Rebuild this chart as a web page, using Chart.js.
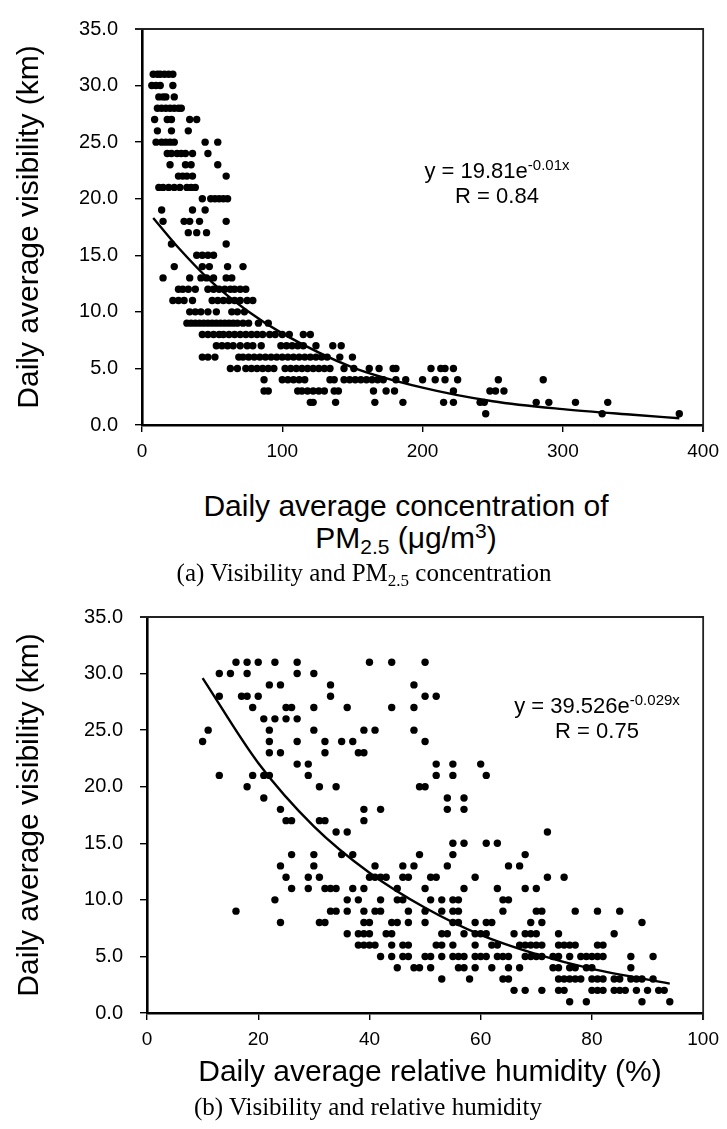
<!DOCTYPE html>
<html>
<head>
<meta charset="utf-8">
<script src="https://cdn.jsdelivr.net/npm/chart.js@4.4.1/dist/chart.umd.min.js"></script>
<style>
  body { margin: 0; background: #fff; }
  #page { position: relative; width: 727px; height: 1129px; font-family: 'Liberation Sans', Arial, sans-serif; color: #000; overflow: hidden; }
  canvas { position: absolute; left: 0; }
  .txt { position: absolute; text-align: center; white-space: nowrap; z-index: 2; }
  .axis-title { font-size: 30px; line-height: 32px; }
  .eq { font-size: 22px; line-height: 25px; }
  .caption { font-family: 'Liberation Serif', 'Times New Roman', serif; font-size: 25px; line-height: 28px; }
  .eq sup { font-size: 15px; vertical-align: 8px; line-height: 0; }
  .axis-title sub { font-size: 21px; vertical-align: -6px; line-height: 0; }
  .axis-title sup { font-size: 21px; vertical-align: 10px; line-height: 0; }
  .caption sub { font-size: 17px; vertical-align: -5px; line-height: 0; }
</style>
</head>
<body>
<div id="page">
  <canvas id="chartA" width="727" height="470" style="top:0"></canvas>
  <canvas id="chartB" width="727" height="470" style="top:588px"></canvas>

  <div class="txt eq" style="left:347px; width:300px; top:158px">y = 19.81e<sup>-0.01x</sup><br>R = 0.84</div>
  <div class="txt axis-title" style="left:0; width:812px; top:490px">Daily average concentration of<br>PM<sub>2.5</sub> (μg/m<sup>3</sup>)</div>
  <div class="txt caption" style="left:64px; width:600px; top:559px">(a) Visibility and PM<sub>2.5</sub> concentration</div>

  <div class="txt eq" style="left:447px; width:300px; top:693px">y = 39.526e<sup>-0.029x</sup><br>R = 0.75</div>
  <div class="txt axis-title" style="left:30px; width:800px; top:1055px">Daily average relative humidity (%)</div>
  <div class="txt caption" style="left:68px; width:600px; top:1093px">(b) Visibility and relative humidity</div>
</div>
<script>
// (a) visibility levels (km) and the PM2.5 values of the dots on each level
const visLevelsA = [31, 30, 29, 28, 27, 26, 25, 24, 23, 22, 21, 20, 19, 18, 17, 16,
    15, 14, 13, 12, 11, 10, 9, 8, 7, 6, 5, 4, 3, 2, 1];
const pmByLevel = [
    [8, 11, 13, 16, 19, 22],
    [7, 10, 13, 22],
    [12, 15, 17, 23],
    [11, 14, 17, 20, 23, 26, 28],
    [9, 18, 21, 34, 39],
    [11, 21, 33],
    [10, 14, 17, 20, 23, 45, 54],
    [18, 21, 25, 28, 31, 36, 47],
    [20, 31, 35, 54],
    [26, 29, 32, 36, 60],
    [12, 15, 19, 23, 27, 32, 35, 38],
    [43, 49, 52, 55, 58, 61],
    [14, 36, 45],
    [15, 30, 34, 41, 60],
    [33, 39, 46],
    [21, 60],
    [39, 43, 47, 51],
    [23, 43, 48, 61, 72],
    [15, 34, 42, 46, 51, 60, 64],
    [26, 29, 33, 38, 47, 51, 55, 59, 63, 66, 70, 74],
    [22, 26, 30, 36, 50, 54, 58, 62, 66, 70, 75, 79],
    [34, 38, 42, 47, 53, 64, 68, 73],
    [32, 35, 38, 41, 44, 47, 50, 53, 56, 59, 62, 65, 68, 72, 76, 83, 90],
    [43, 47, 51, 55, 58, 62, 66, 70, 74, 78, 82, 86, 91, 95, 100, 105, 115, 120],
    [53, 57, 61, 65, 70, 75, 79, 85, 99, 103, 107, 111, 115, 124, 136, 142],
    [43, 47, 52, 69, 72, 76, 80, 84, 88, 92, 96, 100, 104, 108, 112, 116, 120, 124, 128, 132, 141, 150],
    [63, 68, 74, 78, 82, 86, 90, 94, 102, 106, 110, 114, 118, 122, 126, 130, 134, 144, 151, 162, 169, 179, 181, 206, 213, 216, 222],
    [87, 100, 104, 108, 112, 116, 134, 137, 144, 148, 152, 156, 160, 164, 168, 172, 181, 188, 200, 209, 216, 225, 254, 286],
    [87, 90, 111, 114, 118, 122, 126, 130, 137, 140, 165, 174, 180, 222, 248, 252, 258],
    [120, 122, 138, 166, 186, 215, 222, 241, 244, 281, 290, 309, 332],
    [245, 328, 383]
];
// fitted curve of (a)
const trendPm = [8, 25, 50, 75, 100, 150, 200, 250, 300, 350, 383];
const trendPmVis = [18.3, 15.8, 12.6, 10.1, 8.1, 5.1, 3.3, 2.1, 1.4, 0.9, 0.6];

// (b) visibility levels (km) and the relative humidity values of the dots on each level
const visLevelsB = [31, 30, 29, 28, 27, 26, 25, 24, 23, 22, 21, 20, 19, 18, 17, 16,
    15, 14, 13, 12, 11, 10, 9, 8, 7, 6, 5, 4, 3, 2, 1];
const rhByLevel = [
    [16, 18, 20, 23, 27, 40, 44, 50],
    [13, 15, 18, 27, 30],
    [22, 24, 33, 48],
    [13, 17, 18, 20, 33, 50, 52],
    [19, 25, 26, 30, 36, 44, 48],
    [21, 23, 25, 27],
    [11, 22, 30, 39, 41, 48],
    [10, 22, 27, 32, 35, 37, 50],
    [22, 24, 32, 38, 39],
    [27, 29, 52, 55, 60],
    [13, 19, 21, 22, 29, 52, 55, 61],
    [18, 31, 34, 49, 50],
    [21, 54, 57],
    [24, 39, 42, 54, 57],
    [25, 26, 31, 32, 39],
    [34, 36, 72],
    [55, 57, 61, 63],
    [26, 30, 35, 37, 49, 55, 68],
    [24, 30, 41, 46, 48, 54, 65, 67],
    [25, 29, 31, 40, 41, 42, 43, 46, 47, 51, 52, 59, 72, 75],
    [26, 29, 32, 33, 34, 37, 39, 45, 50, 57, 63, 68, 70],
    [23, 36, 38, 42, 45, 46, 51, 53, 55, 56, 64, 65],
    [16, 33, 34, 36, 39, 41, 42, 47, 50, 53, 55, 56, 64, 70, 71, 77, 81, 85],
    [24, 31, 32, 39, 40, 44, 45, 47, 50, 55, 56, 59, 61, 62, 69, 71, 89],
    [36, 38, 39, 40, 43, 44, 53, 54, 57, 59, 60, 61, 66, 68, 69, 70, 74, 84],
    [38, 39, 40, 41, 44, 46, 47, 52, 53, 55, 59, 62, 63, 67, 68, 69, 70, 71, 74, 75, 76, 77, 81, 82],
    [42, 44, 46, 47, 50, 51, 53, 55, 56, 57, 59, 60, 61, 63, 64, 65, 68, 69, 70, 71, 73, 74, 76, 78, 79, 80, 81, 82, 87, 91],
    [45, 48, 49, 51, 56, 57, 59, 62, 65, 67, 73, 74, 76, 77, 79, 80, 87],
    [53, 58, 64, 65, 74, 75, 76, 77, 78, 80, 81, 82, 84, 85, 87, 88, 89, 91],
    [66, 68, 71, 74, 75, 80, 81, 82, 84, 85, 86, 88, 90, 92, 93],
    [76, 79, 89, 94]
];
// fitted curve of (b)
const trendRh = [10, 20, 30, 40, 50, 60, 70, 80, 94];
const trendRhVis = [29.6, 22.1, 16.5, 12.4, 9.3, 6.9, 5.2, 3.9, 2.6];

// tick labels
const visTicks = [0, 5, 10, 15, 20, 25, 30, 35];
const pmTicks = [0, 100, 200, 300, 400];
const rhTicks = [0, 20, 40, 60, 80, 100];

Chart.defaults.font.family = "'Liberation Sans', Arial, sans-serif";
Chart.defaults.color = '#000';

function toPoints(levels, rows) {
    const pts = [];
    levels.forEach((v, i) => rows[i].forEach(x => pts.push({ x: x, y: v })));
    return pts;
}

function zip(xs, ys) {
    return xs.map((x, i) => ({ x: x, y: ys[i] }));
}

// thin top and right sides of the plot box
const framePlugin = {
    id: 'frame',
    afterDraw(chart) {
        const { ctx, chartArea: a } = chart;
        ctx.save();
        ctx.strokeStyle = '#222';
        ctx.lineWidth = 1.8;
        ctx.beginPath();
        ctx.moveTo(a.left - 7, a.top);
        ctx.lineTo(a.right, a.top);
        ctx.lineTo(a.right, a.bottom + 7);
        ctx.stroke();
        ctx.restore();
    }
};

function makeChart(id, points, trend, xTicks, yAxisWidth, padRight) {
    const ctx = document.getElementById(id).getContext('2d');
    return new Chart(ctx, {
        type: 'scatter',
        data: {
            datasets: [{
                data: trend,
                type: 'line',
                borderColor: '#000',
                borderWidth: 2.4,
                pointRadius: 0,
                cubicInterpolationMode: 'monotone',
                fill: false,
                order: 0
            }, {
                data: points,
                backgroundColor: '#000',
                borderWidth: 0,
                pointRadius: 3.7,
                order: 1
            }]
        },
        options: {
            responsive: false,
            animation: false,
            layout: { padding: { top: 17, right: padRight, left: 0, bottom: 0 } },
            plugins: { legend: { display: false }, tooltip: { enabled: false } },
            scales: {
                x: {
                    type: 'linear',
                    min: xTicks[0],
                    max: xTicks[xTicks.length - 1],
                    afterBuildTicks: axis => { axis.ticks = xTicks.map(v => ({ value: v })); },
                    afterFit: axis => { axis.height = 45; },
                    grid: { drawOnChartArea: false, tickLength: 7, color: '#000', lineWidth: 1.4 },
                    border: { color: '#000', width: 2.6 },
                    ticks: { font: { size: 19 }, padding: 8, maxRotation: 0 }
                },
                y: {
                    type: 'linear',
                    min: 0,
                    max: 35,
                    afterBuildTicks: axis => { axis.ticks = visTicks.map(v => ({ value: v })); },
                    afterFit: axis => { axis.width = yAxisWidth; },
                    grid: { drawOnChartArea: false, tickLength: 7, color: '#000', lineWidth: 1.4 },
                    border: { color: '#000', width: 2.6 },
                    ticks: { font: { size: 20 }, padding: 17, callback: v => v.toFixed(1) },
                    title: {
                        display: true,
                        text: 'Daily average visibility (km)',
                        font: { size: 30 },
                        padding: { top: 12, bottom: 0 }
                    }
                }
            }
        },
        plugins: [framePlugin]
    });
}

makeChart('chartA', toPoints(visLevelsA, pmByLevel), zip(trendPm, trendPmVis), pmTicks, 142, 16);
makeChart('chartB', toPoints(visLevelsB, rhByLevel), zip(trendRh, trendRhVis), rhTicks, 147, 15);
</script>
</body>
</html>
